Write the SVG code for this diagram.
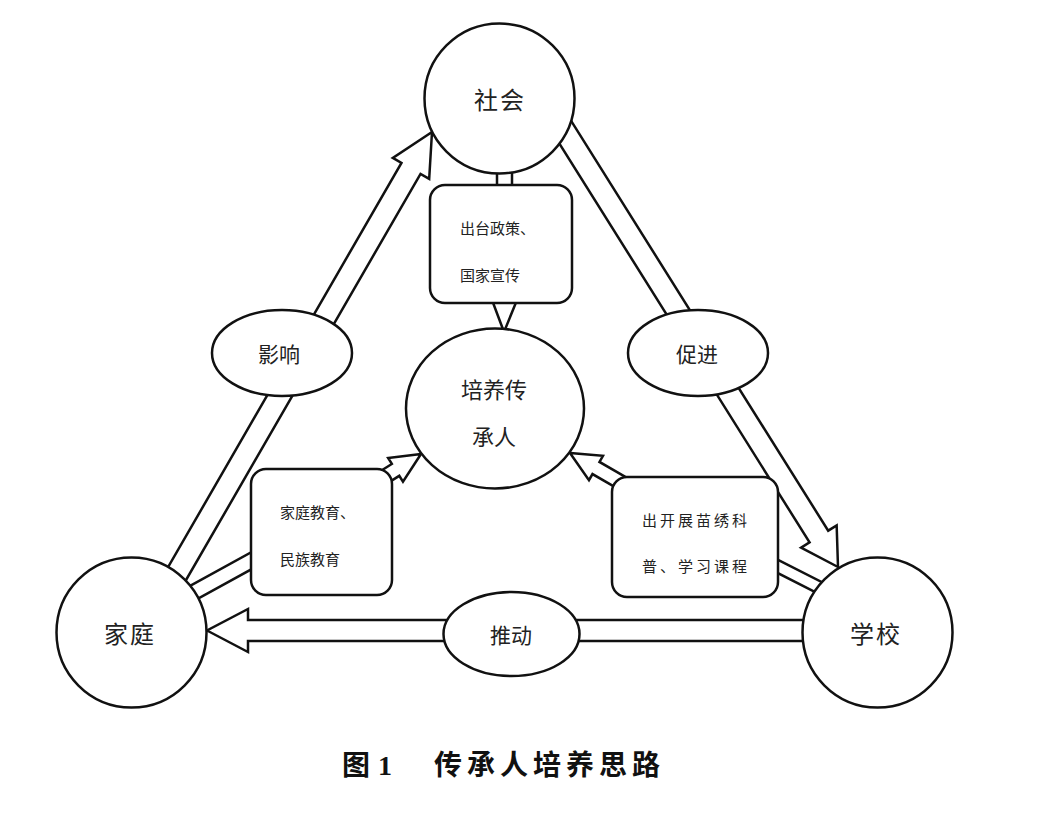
<svg xmlns="http://www.w3.org/2000/svg" width="1039" height="816" viewBox="0 0 1039 816">
<style>
.shape{fill:#fff;stroke:#111;stroke-width:2.5;stroke-linejoin:miter}
.lbl{font-family:"Noto Sans CJK SC","Noto Sans",sans-serif;fill:#222;text-anchor:middle}
.big{font-size:24px;letter-spacing:2px}
.mid{font-size:21px}
.box{font-family:"Noto Sans CJK SC","Noto Sans",sans-serif;fill:#222;font-size:15px}
.cap{font-family:"Liberation Serif","Noto Sans CJK SC",serif;font-weight:bold;font-size:28px;fill:#111}
</style>
<rect width="1039" height="816" fill="#fff"/>
<g id="connectors">
  <path class="shape" transform="translate(432,132) rotate(-60)" d="M0,0 L-42,-21 L-42,-11 L-530,-11 L-530,11 L-42,11 L-42,21 Z"/>
  <path class="shape" transform="translate(838,567) rotate(57.9)" d="M0,0 L-36,-21 L-36,-11 L-530,-11 L-530,11 L-36,11 L-36,21 Z"/>
  <path class="shape" transform="translate(207,630.5) rotate(180)" d="M0,0 L-41,-21.5 L-41,-10.5 L-620,-10.5 L-620,10.5 L-41,10.5 L-41,21.5 Z"/>
  <rect class="shape" x="497" y="165" width="15" height="22"/>
  <polygon class="shape" points="492,300 517,300 504,332"/>
  <polygon class="shape" points="176.4,593.4 256.4,549.4 263.6,562.6 183.6,606.6"/>
  <polygon class="shape" points="767.7,554.6 842.7,592.7 837.3,603.3 762.3,565.2"/>
  <path class="shape" transform="translate(421,454) rotate(-32)" d="M0,0 L-30,-14 L-30,-7 L-60,-7 L-60,7 L-30,7 L-30,14 Z"/>
  <path class="shape" transform="translate(570,453) rotate(210)" d="M0,0 L-30,-14 L-30,-7 L-70,-7 L-70,7 L-30,7 L-30,14 Z"/>
</g>
<g id="node-shehui">
  <circle class="shape" cx="499.5" cy="98.5" r="75"/>
  <text class="lbl big" x="500" y="109">社会</text>
</g>
<g id="node-peiyang">
  <ellipse class="shape" cx="495" cy="408.5" rx="89" ry="80"/>
  <text class="lbl mid" x="494" y="397.5" style="font-size:22px">培养传</text>
  <text class="lbl mid" x="494" y="444.5" style="font-size:22px">承人</text>
</g>
<g id="node-jiating">
  <circle class="shape" cx="131.5" cy="632.5" r="75"/>
  <text class="lbl big" x="130" y="643">家庭</text>
</g>
<g id="node-xuexiao">
  <circle class="shape" cx="877.5" cy="632.5" r="75"/>
  <text class="lbl big" x="876" y="643">学校</text>
</g>
<g id="node-yingxiang">
  <ellipse class="shape" cx="282" cy="353" rx="70" ry="43"/>
  <text class="lbl mid" x="279" y="362">影响</text>
</g>
<g id="node-cujin">
  <ellipse class="shape" cx="698" cy="353" rx="70" ry="43"/>
  <text class="lbl mid" x="697" y="362">促进</text>
</g>
<g id="node-tuidong">
  <ellipse class="shape" cx="511.5" cy="634" rx="68" ry="42"/>
  <text class="lbl mid" x="511" y="643">推动</text>
</g>
<g id="box-zhengce">
  <rect class="shape" x="430" y="185" width="142" height="118" rx="15"/>
  <text class="box" x="460" y="234">出台政策、</text>
  <text class="box" x="460" y="281">国家宣传</text>
</g>
<g id="box-jiaoyu">
  <rect class="shape" x="251" y="469" width="141" height="126" rx="15"/>
  <text class="box" x="280" y="518">家庭教育、</text>
  <text class="box" x="280" y="565">民族教育</text>
</g>
<g id="box-kecheng">
  <rect class="shape" x="612" y="477" width="166" height="120" rx="15"/>
  <text class="box" x="642" y="526" letter-spacing="3">出开展苗绣科</text>
  <text class="box" x="642" y="572" letter-spacing="3">普、学习课程</text>
</g>
<g id="caption">
  <text class="cap" y="775"><tspan x="342">图</tspan><tspan x="378">1</tspan><tspan x="434" letter-spacing="5">传承人培养思路</tspan></text>
</g>
</svg>
